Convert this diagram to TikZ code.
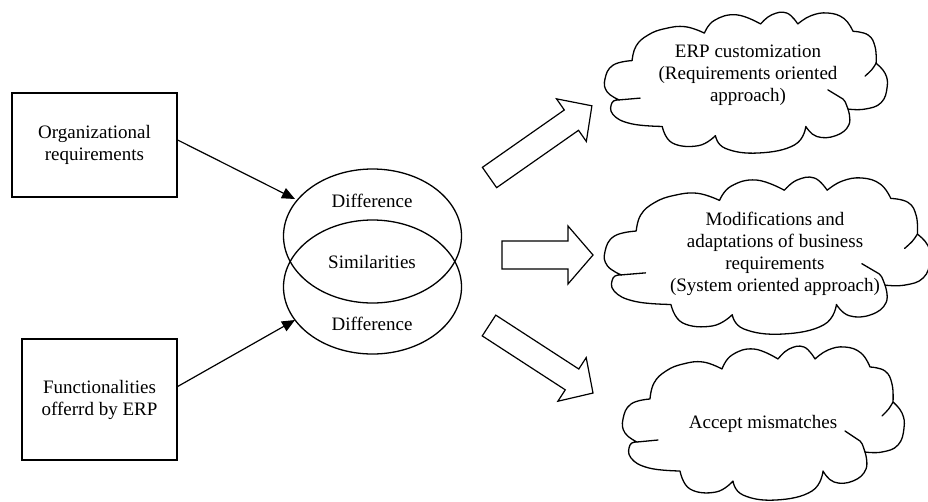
\documentclass[tikz,border=0pt]{standalone}
\usepackage{fontspec}
\setmainfont{Liberation Serif}
\usetikzlibrary{shapes.geometric,arrows.meta}
\newcommand\cloudoutline{%
  \draw[cloudline]
    plot[smooth,tension=0.75] coordinates {(27,52) (31,36) (43,24) (60,17) (80,15) (99,22)}
    plot[smooth,tension=0.75] coordinates {(99,22) (109,8) (131,2) (155,12)}
    plot[smooth,tension=0.75] coordinates {(155,12) (166,2) (181,0) (192,12)}
    plot[smooth,tension=0.75] coordinates {(192,12) (205,3) (222,0) (238,6) (247,20)}
    plot[smooth,tension=0.75] coordinates {(247,20) (262,24) (269,37) (270,55)}
    plot[smooth,tension=0.75] coordinates {(270,55) (279,66) (281,81) (275,98) (259,105) (242,105)}
    plot[smooth,tension=0.75] coordinates {(242,105) (243,122) (230,134) (211,135) (200,124)}
    plot[smooth,tension=0.75] coordinates {(200,124) (189,144) (153,153) (120,148) (110,134)}
    plot[smooth,tension=0.75] coordinates {(110,134) (93,145) (67,142) (57,124)}
    plot[smooth,tension=0.75] coordinates {(57,124) (26,121) (8,111) (7,98) (14,95)}
    plot[smooth,tension=0.75] coordinates {(14,95) (2,86) (0,72) (8,57) (27,52)};
  \draw[cloudline] (270,55) .. controls (266,62) .. (259,69);
  \draw[cloudline] (242,105) .. controls (239,96) .. (237,94) -- (222,84);
  \draw[cloudline] (14,95) -- (35,93);
}
\begin{document}
\begin{tikzpicture}[x=1pt,y=-1pt,
  txt/.style={font=\fontsize{19}{22}\selectfont, align=center, inner sep=0pt},
  rbox/.style={draw, line width=1.3pt, txt},
  ell/.style={draw, ellipse, line width=1.3pt, minimum width=178pt, minimum height=134pt, inner sep=0pt},
  conn/.style={line width=1.2pt, -{Triangle[length=13pt,width=11pt]}},
  barrow/.style={draw, line width=1.2pt, line join=miter},
  cloudline/.style={line width=1.3pt, line cap=round, line join=round}
]
\useasboundingbox (0,0) rectangle (928,501);

% boxes
\node[rbox, minimum width=165pt, minimum height=104pt] (b1) at (94.5,145) {Organizational\\requirements};
\node[rbox, minimum width=155pt, minimum height=121pt] (b2) at (99.5,399.5) {Functionalities\\offerrd by ERP};

% ellipses
\node[ell] (e1) at (372.5,236) {};
\node[ell] (e2) at (372.5,287) {};
\node[txt] (d1) at (372,201) {Difference};
\node[txt] (sim) at (372,262) {Similarities};
\node[txt] (d2) at (372,324) {Difference};

% connectors
\coordinate (t1) at (295,199);
\coordinate (t2) at (295,320);
\draw[conn] ([yshift=5pt]b1.east) -- (t1);
\draw[conn] ([yshift=13pt]b2.east) -- (t2);

% block arrows
\begin{scope}[shift={(489.5,177.5)}, rotate=35]
  \draw[barrow] (0,-12.4) -- (100,-12.4) -- (100,-26) -- (125,0) -- (100,26) -- (100,12.4) -- (0,12.4) -- cycle;
\end{scope}
\begin{scope}[shift={(502,255)}]
  \draw[barrow] (0,-14) -- (66,-14) -- (66,-29) -- (91,0) -- (66,29) -- (66,14) -- (0,14) -- cycle;
\end{scope}
\begin{scope}[shift={(489,325.5)}, rotate=-33]
  \draw[barrow] (0,-12.4) -- (99,-12.4) -- (99,-26) -- (124,0) -- (99,26) -- (99,12.4) -- (0,12.4) -- cycle;
\end{scope}

% clouds
\begin{scope}[shift={(605,13)}, xscale=1.004, yscale=0.915]
  \cloudoutline
\end{scope}
\node[txt] (c1t) at (748,75) {ERP customization\\(Requirements oriented\\approach)};
\begin{scope}[shift={(605,178)}, xscale=1.157, yscale=1.02]
  \cloudoutline
\end{scope}
\node[txt] (c2t) at (775,254) {Modifications and\\adaptations of business\\requirements\\(System oriented approach)};
\begin{scope}[shift={(623,347)}]
  \cloudoutline
\end{scope}
\node[txt] (c3t) at (763,424) {Accept mismatches};
\end{tikzpicture}
\end{document}
